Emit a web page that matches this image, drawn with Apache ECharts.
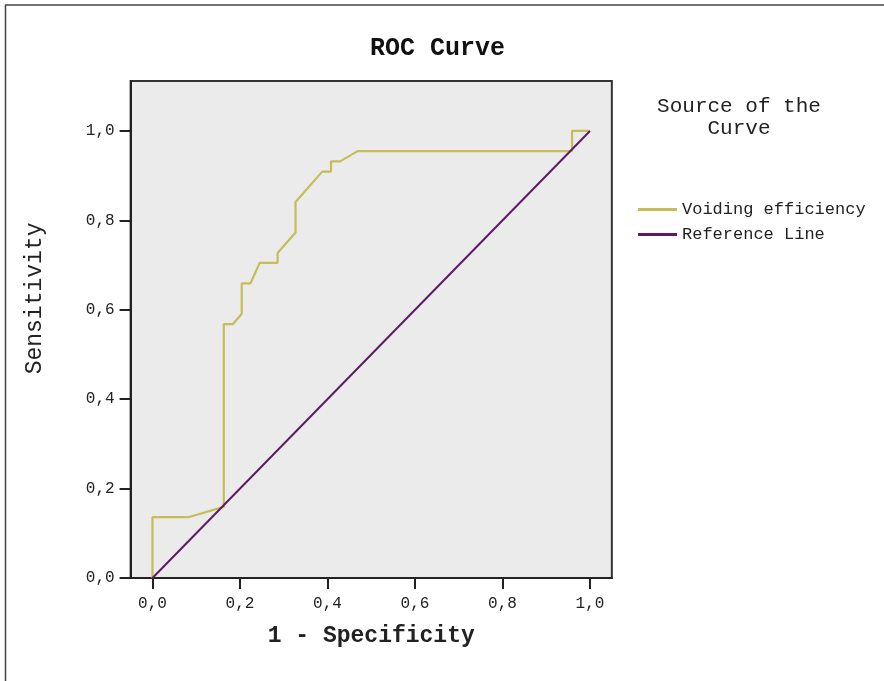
<!DOCTYPE html>
<html>
<head>
<meta charset="utf-8">
<script src="https://cdn.jsdelivr.net/npm/echarts@6/dist/echarts.min.js"></script>
<style>
html,body{margin:0;padding:0;background:#fff;}
#chart{width:884px;height:681px;}
</style>
</head>
<body>
<div id="chart"></div>
<script>
// ROC curve points
var fprValues  = [0, 0, 0.082, 0.163, 0.163, 0.184, 0.204, 0.204, 0.224, 0.245, 0.286, 0.286, 0.327, 0.327, 0.388, 0.408, 0.408, 0.429, 0.469, 0.959, 0.959, 1];
var sensValues = [0, 0.136, 0.136, 0.159, 0.568, 0.568, 0.591, 0.659, 0.659, 0.705, 0.705, 0.727, 0.773, 0.841, 0.909, 0.909, 0.932, 0.932, 0.955, 0.955, 1, 1];
var refX = [0, 1];
var refY = [0, 1];
var tickValues = [0, 0.2, 0.4, 0.6, 0.8, 1.0];
var seriesNames = ['Voiding efficiency', 'Reference Line'];

var FONT = "'Liberation Mono', 'Courier New', monospace";
function fmt(v){ return v.toFixed(1).replace('.', ','); }
function zip(a, b){ return a.map(function(v, i){ return [v, b[i]]; }); }

var chart = echarts.init(document.getElementById('chart'), null, {renderer: 'canvas'});
chart.setOption({
  backgroundColor: '#ffffff',
  animation: false,
  title: {
    text: 'ROC Curve',
    left: 365, top: 31,
    textStyle: {fontFamily: FONT, fontSize: 25, fontWeight: 'bold', color: '#111'}
  },
  legend: {
    orient: 'vertical',
    left: 638, top: 201,
    padding: 0,
    icon: 'rect',
    itemWidth: 39, itemHeight: 3,
    itemGap: 8,
    data: seriesNames,
    textStyle: {fontFamily: FONT, fontSize: 17, color: '#222'}
  },
  graphic: [
    {type: 'text', x: 739, y: 95, style: {text: 'Source of the\nCurve', align: 'center', verticalAlign: 'top', font: '21px ' + FONT, fill: '#222', lineHeight: 22}},
    {type: 'line', shape: {x1: 5, y1: 5, x2: 884, y2: 5}, style: {stroke: '#444', lineWidth: 1.5}},
    {type: 'line', shape: {x1: 5.5, y1: 5, x2: 5.5, y2: 681}, style: {stroke: '#444', lineWidth: 1.5}}
  ],
  grid: {
    left: 130.6, top: 80.9, width: 481.25, height: 497.1,
    show: true, backgroundColor: '#ebebeb', borderColor: '#333', borderWidth: 2
  },
  xAxis: {
    type: 'value', min: -0.05, max: 1.05,
    name: '1 - Specificity', nameLocation: 'middle', nameGap: 47,
    nameTextStyle: {fontFamily: FONT, fontSize: 23, fontWeight: 'bold', color: '#222'},
    axisLine: {show: true, onZero: false, lineStyle: {color: '#222', width: 2}},
    axisTick: {show: true, length: 11, customValues: tickValues, lineStyle: {color: '#222', width: 2}},
    axisLabel: {customValues: tickValues, formatter: fmt, margin: 18, fontFamily: FONT, fontSize: 16, color: '#222'},
    splitLine: {show: false}
  },
  yAxis: {
    type: 'value', min: 0, max: 1.112,
    name: 'Sensitivity', nameLocation: 'middle', nameGap: 84,
    nameTextStyle: {fontFamily: FONT, fontSize: 23, color: '#222', padding: [0, 0, 0, 62]},
    axisLine: {show: true, onZero: false, lineStyle: {color: '#222', width: 2}},
    axisTick: {show: true, length: 11, customValues: tickValues, lineStyle: {color: '#222', width: 2}},
    axisLabel: {customValues: tickValues, formatter: fmt, margin: 16, fontFamily: FONT, fontSize: 16, color: '#222'},
    splitLine: {show: false}
  },
  series: [
    {
      name: seriesNames[0], type: 'line', data: zip(fprValues, sensValues),
      showSymbol: false, symbol: 'none', z: 3,
      lineStyle: {color: '#c6bd58', width: 2.2},
      itemStyle: {color: '#c6bd58'}
    },
    {
      name: seriesNames[1], type: 'line', data: zip(refX, refY),
      showSymbol: false, symbol: 'none', z: 4,
      lineStyle: {color: '#5e1a66', width: 2},
      itemStyle: {color: '#5e1a66'}
    }
  ]
});
</script>
</body>
</html>
